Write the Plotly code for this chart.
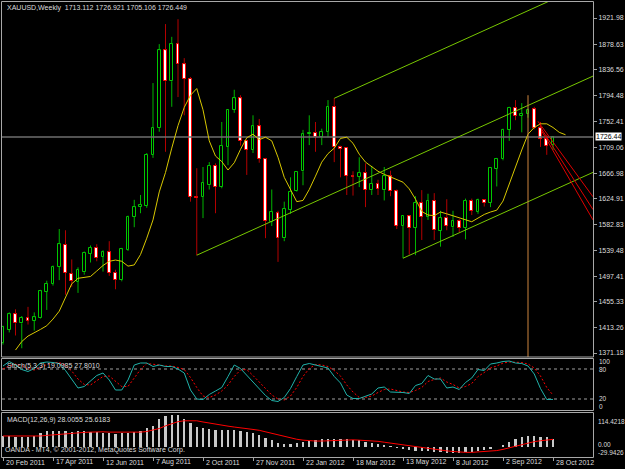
import plotly.graph_objects as go
import pandas as pd

W, H = 625, 469

# ---------------- data ----------------
dates = pd.date_range("2011-02-20", periods=89, freq="7D")
opens = [1388,1409,1435,1420,1429,1424,1429,1472,1485,1513,1549,1501,1488,1504,1534,1544,1529,1537,1503,1491,
         1541,1595,1611,1613,1697,1741,1869,1818,1879,1846,1822,1628,1628,1647,1679,1644,1710,1771,1790,1720,
         1705,1744,1690,1587,1601,1560,1606,1637,1670,1731,1733,1726,1735,1776,1710,1708,1662,1661,1667,1639,
         1649,1639,1662,1637,1580,1596,1577,1618,1595,1621,1572,1593,1578,1588,1577,1621,1603,1623,1618,1674,
         1690,1738,1774,1761,1764,1772,1741,1723,1713.112]
highs = [1416,1438,1443,1432,1447,1438,1475,1490,1515,1575,1573,1525,1512,1538,1548,1550,1540,1555,1508,1544,
         1597,1623,1631,1700,1815,1879,1912,1891,1920,1856,1825,1675,1677,1685,1683,1751,1772,1804,1795,1721,
         1762,1756,1692,1640,1605,1620,1660,1670,1738,1762,1751,1740,1787,1790,1712,1708,1670,1693,1683,1679,
         1656,1677,1671,1640,1596,1597,1629,1639,1633,1634,1605,1624,1605,1591,1625,1625,1625,1624,1675,1692,
         1740,1776,1787,1782,1773,1776,1751,1730,1726.921]
lows = [1385,1405,1400,1379,1418,1408,1428,1442,1482,1491,1467,1480,1470,1500,1520,1522,1505,1498,1476,1489,
        1539,1578,1601,1610,1692,1735,1702,1776,1792,1762,1620,1532,1593,1640,1601,1642,1680,1766,1712,1664,
        1700,1684,1560,1580,1521,1555,1600,1636,1647,1713,1702,1713,1726,1685,1660,1631,1630,1644,1611,1631,
        1631,1622,1629,1575,1527,1533,1532,1557,1590,1557,1546,1573,1562,1570,1558,1598,1600,1612,1611,1645,
        1688,1720,1754,1734,1758,1739,1710,1697,1705.106]
closes = [1414,1435,1420,1429,1424,1430,1473,1485,1513,1550,1503,1490,1508,1536,1544,1527,1537,1503,1491,1542,
          1595,1611,1615,1697,1741,1869,1818,1879,1846,1822,1628,1626,1651,1679,1644,1712,1771,1790,1720,1705,
          1744,1690,1588,1603,1560,1608,1636,1669,1731,1733,1726,1735,1776,1710,1707,1662,1661,1667,1639,1649,
          1641,1662,1637,1580,1596,1577,1618,1595,1621,1573,1593,1580,1588,1577,1621,1605,1623,1618,1675,1690,
          1738,1774,1761,1764,1771,1741,1723,1712,1726.449]
# moving average (drawn with a 2-bar forward shift, as in the terminal)
ma_values = [1376,1390,1399,1404,1410,1416,1427,1440,1462,1485,1494,1495,1497,1506,1515,1522,1524,1522,1514,1516,
             1533,1560,1590,1636,1668,1708,1745,1775,1795,1806,1771,1720,1695,1686,1672,1684,1706,1725,1731,1722,
             1726,1720,1693,1660,1640,1620,1622,1640,1662,1685,1699,1708,1724,1726,1716,1698,1685,1677,1670,1665,
             1661,1657,1652,1641,1624,1604,1598,1597,1603,1600,1597,1594,1590,1587,1593,1599,1603,1606,1621,1650,
             1678,1705,1731,1742,1748,1748,1742,1734,1730]
ma_shift = 2
stoch_main = [86,95,88,79,75,81,92,94,93,91,77,60,42,45,56,67,72,58,38,38,58,88,92,92,85,88,85,85,80,72,
              38,20,19,29,36,43,65,88,81,67,53,41,27,17,15,23,41,65,88,91,88,84,82,65,52,28,21,21,26,30,
              42,44,34,34,33,31,47,51,67,60,60,42,44,39,53,62,79,77,90,92,95,96,92,91,86,70,41,19,19.0985]
stoch_signal = [80,86,90,87,81,78,83,89,93,93,87,76,60,49,48,56,65,66,56,45,45,61,79,91,90,88,86,86,83,79,
                63,43,26,23,28,36,48,65,78,79,67,54,40,28,20,18,26,43,65,81,89,88,85,77,66,48,34,23,23,26,
                33,39,40,37,34,33,37,43,55,59,62,54,49,42,45,51,65,73,82,86,92,94,94,93,90,82,66,43,27.8010]
macd_hist = [37,37,33,33,35,37,46,53,53,53,53,52,53,53,52,51,48,46,45,46,48,51,54,64,70,94,104,107,107,94,
             80,66,63,59,57,57,57,57,54,52,46,41,30,22,13,9,10,13,16,20,23,26,28,28,27,26,24,22,18,14,
             10,6,2,-3,-8,-11,-13,-14,-14,-16,-18,-19,-20,-20,-18,-16,-14,-10,-6,0,8,17,26,32,36,37,34,32,28.0055]
macd_signal = [37,37,37,37,36,36,37,39,41,43,45,46,48,49,50,51,51,50,50,49,49,49,50,52,56,62,71,78,85,88,
               89,88,84,80,76,73,70,67,65,62,59,56,51,46,40,34,29,26,23,21,20,20,21,22,23,24,24,23,22,21,
               19,16,13,10,6,3,0,-3,-6,-8,-11,-13,-15,-17,-18,-18,-17,-16,-15,-12,-8,-3,3,9,14,18,21,24,25.6183]

price_ticks = [1921.98,1878.63,1836.56,1794.48,1752.41,1709.06,1666.98,1624.91,1582.83,1539.48,1497.41,1455.33,1413.26,1371.18]
price_tick_text = ["1921.98","1878.63","1836.56","1794.48","1752.41","1709.06","1666.98","1624.91","1582.83",
                   "1539.48","1497.41","1455.33","1413.26","1371.18"]
date_tick_step = 8

# chart objects (anchor bar, anchor price); lines extend to the right edge
channel_slope = 4.645          # price units per bar
green_lines = [(31, 1532), (53, 1790), (64, 1527)]
red_lines = [((85.6, 1752), (94.4, 1628)), ((85.9, 1744), (94.4, 1607)), ((86.2, 1736), (94.4, 1590))]
vline_bar, vline_top = 84, 1795
current_price = 1726.449

# ---------------- geometry ----------------
def fx(px): return px / W
def fy(py): return 1 - py / H

n = len(opens)
xs = list(range(n))
X_RANGE = [-0.16, 94.4]
X_DOM = [fx(2), fx(593)]

fig = go.Figure()

# wicks
def wick_trace(idx, color):
    wx, wy = [], []
    for i in idx:
        top = max(opens[i], closes[i]); bot = min(opens[i], closes[i])
        wx += [i, i, None, i, i, None]
        wy += [highs[i], top, None, bot, lows[i], None]
    return go.Scatter(x=wx, y=wy, mode="lines", line=dict(color=color, width=1),
                      hoverinfo="skip", showlegend=False, xaxis="x", yaxis="y")

bull = [i for i in xs if closes[i] >= opens[i]]
bear = [i for i in xs if closes[i] < opens[i]]
fig.add_trace(wick_trace(bull, "#00b400"))
fig.add_trace(wick_trace(bear, "#b40000"))

fig.add_trace(go.Bar(x=bull, y=[closes[i] - opens[i] for i in bull], base=[opens[i] for i in bull],
                     width=0.45, marker=dict(color="#000000", line=dict(color="#00c800", width=1)),
                     showlegend=False, xaxis="x", yaxis="y"))
fig.add_trace(go.Bar(x=bear, y=[opens[i] - closes[i] for i in bear], base=[closes[i] for i in bear],
                     width=0.45, marker=dict(color="#ffffff", line=dict(color="#ff0000", width=1)),
                     showlegend=False, xaxis="x", yaxis="y"))

# current price line
fig.add_trace(go.Scatter(x=X_RANGE, y=[current_price, current_price], mode="lines",
                         line=dict(color="#6e6e6e", width=1.5), showlegend=False, xaxis="x", yaxis="y"))

# moving average
fig.add_trace(go.Scatter(x=[i + ma_shift for i in xs], y=ma_values, mode="lines",
                         line=dict(color="#d8c800", width=1), showlegend=False, xaxis="x", yaxis="y"))

# green channel lines
for b0, p0 in green_lines:
    b1 = X_RANGE[1]
    fig.add_trace(go.Scatter(x=[b0, b1], y=[p0, p0 + channel_slope * (b1 - b0)], mode="lines",
                             line=dict(color="#78c800", width=1), showlegend=False, xaxis="x", yaxis="y"))
# red lines
for (b0, p0), (b1, p1) in red_lines:
    fig.add_trace(go.Scatter(x=[b0, b1], y=[p0, p1], mode="lines",
                             line=dict(color="#e00000", width=1), showlegend=False, xaxis="x", yaxis="y"))
# vertical line
fig.add_trace(go.Scatter(x=[vline_bar, vline_bar], y=[vline_top, 1300], mode="lines",
                         line=dict(color="#cd853f", width=1), showlegend=False, xaxis="x", yaxis="y"))

# stochastic
for lvl in (80, 20):
    fig.add_trace(go.Scatter(x=X_RANGE, y=[lvl, lvl], mode="lines",
                             line=dict(color="#a0a0a0", width=1, dash="3px,3px"),
                             showlegend=False, xaxis="x2", yaxis="y2"))
fig.add_trace(go.Scatter(x=xs, y=stoch_signal, mode="lines", line=dict(color="#ff0000", width=1, dash="2px,2px"),
                         showlegend=False, xaxis="x2", yaxis="y2"))
fig.add_trace(go.Scatter(x=xs, y=stoch_main, mode="lines", line=dict(color="#20b2aa", width=1),
                         showlegend=False, xaxis="x2", yaxis="y2"))

# MACD
fig.add_trace(go.Bar(x=xs, y=macd_hist, width=0.34, marker=dict(color="#c8c8c8", line=dict(width=0)),
                     showlegend=False, xaxis="x3", yaxis="y3"))
fig.add_trace(go.Scatter(x=xs, y=macd_signal, mode="lines", line=dict(color="#ff0000", width=1),
                         showlegend=False, xaxis="x3", yaxis="y3"))

FONT = "Liberation Sans, Arial, sans-serif"
TXT = "#dcdcdc"

def xax(anchor, extra=None):
    d = dict(domain=X_DOM, range=X_RANGE, showgrid=False, zeroline=False, showticklabels=False,
             showline=False, ticks="", anchor=anchor, fixedrange=True)
    if extra: d.update(extra)
    return d

bottom_ticks = list(range(0, n, date_tick_step))
layout = dict(
    width=W, height=H, margin=dict(l=0, r=0, t=0, b=0),
    paper_bgcolor="#000000", plot_bgcolor="#000000", barmode="overlay", bargap=0,
    showlegend=False, font=dict(family=FONT, size=7, color=TXT),
    xaxis=xax("y"),
    xaxis2=xax("y2", dict(matches="x")),
    xaxis3=xax("y3", dict(matches="x", ticks="outside", ticklen=3, tickcolor="#a0a0a0",
                          tickvals=bottom_ticks)),
    yaxis=dict(domain=[fy(357), fy(2)], range=[1364.60, 1948.29], anchor="x", side="right",
               showgrid=False, zeroline=False, tickvals=price_ticks, ticktext=price_tick_text,
               ticks="outside", ticklen=3, tickcolor="#a0a0a0",
               tickfont=dict(family=FONT, size=7, color=TXT), fixedrange=True),
    yaxis2=dict(domain=[fy(410), fy(358)], range=[-2, 102], anchor="x2", showgrid=False,
                zeroline=False, showticklabels=False, fixedrange=True),
    yaxis3=dict(domain=[fy(457), fy(413)], range=[-33.57, 114.14], anchor="x3", showgrid=False,
                zeroline=False, showticklabels=False, fixedrange=True),
)

shapes = []
def rect(x0, y0, x1, y1, color="#a8a8a8", w=1):
    shapes.append(dict(type="rect", xref="paper", yref="paper", x0=fx(x0), x1=fx(x1), y0=fy(y1), y1=fy(y0),
                       line=dict(color=color, width=w), fillcolor="rgba(0,0,0,0)", layer="above"))
rect(1.5, 1.5, 593.5, 357)
rect(1.5, 358.5, 593.5, 410.5)
rect(1.5, 412.5, 593.5, 457.5)
layout["shapes"] = shapes

ann = []
def text(x, y, s, anchor="left", color=TXT, size=7, **kw):
    d = dict(xref="paper", yref="paper", x=fx(x), y=fy(y), text=s, showarrow=False, xanchor=anchor,
             yanchor="middle", font=dict(family=FONT, size=size, color=color))
    d.update(kw)
    ann.append(d)

text(5, 8, "XAUUSD,Weekly  1713.112 1726.921 1705.106 1726.449")
text(5, 366, "Stoch(5,3,3) 19.0985 27.8010")
text(5, 420, "MACD(12,26,9) 28.0055 25.6183")
text(3, 449.5, "OANDA - MT4, © 2001-2012, MetaQuotes Software Corp.")
text(597, 361.5, "100", size=6.5); text(597, 369.5, "80", size=6.5)
text(597, 398.5, "20", size=6.5); text(597, 406, "0", size=6.5)
text(596, 421, "114.4218", size=6.5); text(596, 444.5, "0.00", size=6.5); text(596, 452.5, "-29.9426", size=6.5)
ann.append(dict(xref="paper", yref="y", x=fx(595), y=current_price, text="1726.44", showarrow=False,
                xanchor="left", yanchor="middle", bgcolor="#ffffff", borderpad=0,
                font=dict(family=FONT, size=7, color="#000000")))
for k in bottom_ticks:
    lbl = f"{dates[k].day} {dates[k].strftime('%b %Y')}"
    ann.append(dict(xref="x3", yref="paper", x=k, y=fy(462), text=lbl, showarrow=False,
                    xanchor="left", yanchor="middle", xshift=1, font=dict(family=FONT, size=7, color=TXT)))
layout["annotations"] = ann

fig.update_layout(**layout)
fig.write_html("out.html")
